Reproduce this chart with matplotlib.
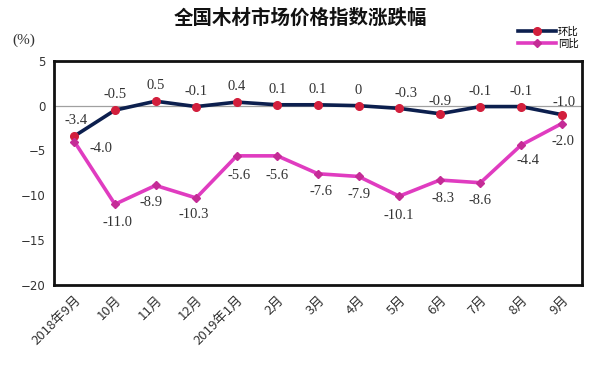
import matplotlib

matplotlib.use("Agg")
import matplotlib.pyplot as plt

plt.rcParams["font.family"] = ["Noto Sans CJK SC", "DejaVu Sans"]

MONTHS = ["2018年9月", "10月", "11月", "12月", "2019年1月", "2月", "3月",
          "4月", "5月", "6月", "7月", "8月", "9月"]
HUANBI = [-3.4, -0.5, 0.5, -0.1, 0.4, 0.1, 0.1, 0, -0.3, -0.9, -0.1, -0.1, -1.0]
TONGBI = [-4.0, -11.0, -8.9, -10.3, -5.6, -5.6, -7.6, -7.9, -10.1, -8.3, -8.6, -4.4, -2.0]
HUANBI_TEXT = ["-3.4", "-0.5", "0.5", "-0.1", "0.4", "0.1", "0.1", "0", "-0.3",
               "-0.9", "-0.1", "-0.1", "-1.0"]
TONGBI_TEXT = ["-4.0", "-11.0", "-8.9", "-10.3", "-5.6", "-5.6", "-7.6", "-7.9",
               "-10.1", "-8.3", "-8.6", "-4.4", "-2.0"]
Y_TICKS = [5, 0, -5, -10, -15, -20]

# label offsets in points (dx, dy)
HB_OFFSETS = [(1, 11), (0, 11), (0, 11), (0, 11), (0, 11), (0, 11), (0, 11),
              (0, 11), (5, 11), (0, 9), (0, 11), (0, 11), (2, 9)]
TB_OFFSETS = [(19, -5), (2, -13), (-3, -12), (-2, -12), (2, -14), (0, -14), (2, -13),
              (0, -13), (0, -14), (2, -13), (0, -13), (5, -11), (1, -13)]

NAVY = "#0c1f4e"
RED = "#d21f3c"
MAGENTA = "#e03cc0"
MAGENTA_DARK = "#c42c96"

fig = plt.figure(figsize=(6.0, 3.69), dpi=100)
ax = fig.add_axes([0.09, 0.228, 0.88, 0.607])

x = list(range(len(MONTHS)))
ax.axhline(0, color="#a0a0a0", lw=0.9, zorder=1)
ax.plot(x, HUANBI, color=NAVY, lw=2.6, marker="o", ms=5.5,
        mfc=RED, mec=RED, label="环比", zorder=3)
ax.plot(x, TONGBI, color=MAGENTA, lw=2.6, marker="D", ms=4.5,
        mfc=MAGENTA_DARK, mec=MAGENTA_DARK, label="同比", zorder=3)

for xi, v, t, (dx, dy) in zip(x, HUANBI, HUANBI_TEXT, HB_OFFSETS):
    ax.annotate(t, (xi, v), xytext=(dx, dy), textcoords="offset points",
                ha="center", va="center", fontsize=10.5,
                family=["Liberation Serif"], color="#333333")
for xi, v, t, (dx, dy) in zip(x, TONGBI, TONGBI_TEXT, TB_OFFSETS):
    ax.annotate(t, (xi, v), xytext=(dx, dy), textcoords="offset points",
                ha="center", va="center", fontsize=10.5,
                family=["Liberation Serif"], color="#333333")

ax.set_xlim(-0.5, len(MONTHS) - 0.5)
ax.set_ylim(-20, 5)
ax.set_yticks(Y_TICKS)
ax.set_yticklabels([str(v).replace("-", "\u2212") for v in Y_TICKS],
                   family=["DejaVu Sans"], fontsize=8.5, color="#333333")
ax.set_xticks(x)
ax.set_xticklabels(MONTHS, rotation=45, ha="right", rotation_mode="anchor",
                   fontsize=9.5, color="#333333")
ax.tick_params(axis="both", length=0, pad=6)
for spine in ax.spines.values():
    spine.set_linewidth(2)
    spine.set_color("#111111")

fig.text(0.5, 0.95, "全国木材市场价格指数涨跌幅", ha="center", va="center",
         fontsize=14, fontweight="bold", color="#111111")
fig.text(0.04, 0.89, "(%)", ha="center", va="center", fontsize=11,
         family=["Liberation Serif"], color="#333333")

fig.legend(loc="upper right", bbox_to_anchor=(0.975, 0.945), frameon=False,
           fontsize=7.5, handlelength=3.6, handletextpad=0.2, labelspacing=0.15,
           borderpad=0.1)

fig.savefig("out.png", dpi=100)
